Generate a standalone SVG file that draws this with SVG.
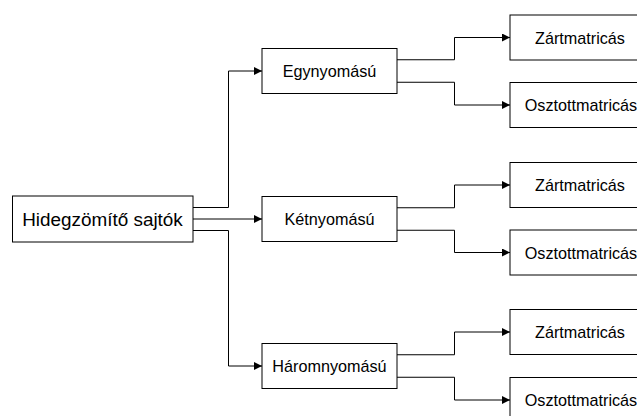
<svg xmlns="http://www.w3.org/2000/svg" width="637" height="416" viewBox="0 0 637 416">
  <style>
    .box { fill: #ffffff; stroke: #000000; stroke-width: 1; }
    .lbl { font-family: "Liberation Sans", Arial, sans-serif; font-size: 16.2px; fill: #000000; text-anchor: middle; dominant-baseline: central; }
    .main { font-size: 18.9px; }
    .edge { fill: none; stroke: #000000; stroke-width: 1; marker-end: url(#arrow); }
  </style>
  <defs>
    <marker id="arrow" viewBox="0 0 10 10" refX="10" refY="5" markerWidth="8" markerHeight="8" markerUnits="userSpaceOnUse" orient="auto">
      <path d="M0,0 L10,5 L0,10 Z" fill="#000000"/>
    </marker>
  </defs>
  <rect width="637" height="416" fill="#ffffff"/>

  <g id="connectors">
    <!-- root to second level -->
    <path class="edge" d="M193,207.5 H228.5 V71 H262"/>
    <path class="edge" d="M193,219 H262"/>
    <path class="edge" d="M193,230.5 H228.5 V366 H262"/>
    <!-- Egynyomású branches -->
    <path class="edge" d="M397,59.75 H454.5 V37.5 H510"/>
    <path class="edge" d="M397,82.25 H454.5 V105 H510"/>
    <!-- Kétnyomású branches -->
    <path class="edge" d="M397,207.75 H454.5 V185 H510"/>
    <path class="edge" d="M397,230.25 H454.5 V252.5 H510"/>
    <!-- Háromnyomású branches -->
    <path class="edge" d="M397,354.75 H454.5 V332 H510"/>
    <path class="edge" d="M397,377.25 H454.5 V400 H510"/>
  </g>

  <g id="root">
    <rect class="box" x="12.5" y="196" width="180.5" height="46"/>
    <text class="lbl main" x="102.5" y="219">Hidegzömítő sajtók</text>
  </g>

  <g id="egynyomasu">
    <rect class="box" x="262" y="48.5" width="135" height="45"/>
    <text class="lbl" x="329.5" y="71">Egynyomású</text>
  </g>
  <g id="ketnyomasu">
    <rect class="box" x="262" y="196.5" width="135" height="45"/>
    <text class="lbl" x="329.5" y="219">Kétnyomású</text>
  </g>
  <g id="haromnyomasu">
    <rect class="box" x="262" y="343.5" width="135" height="45"/>
    <text class="lbl" x="329.5" y="366">Háromnyomású</text>
  </g>

  <g id="egy-zart">
    <rect class="box" x="510" y="15" width="140" height="45"/>
    <text class="lbl" x="580" y="37.5">Zártmatricás</text>
  </g>
  <g id="egy-osztott">
    <rect class="box" x="510" y="82.5" width="140" height="45"/>
    <text class="lbl" x="581" y="105">Osztottmatricás</text>
  </g>
  <g id="ket-zart">
    <rect class="box" x="510" y="162.5" width="140" height="45"/>
    <text class="lbl" x="580" y="185">Zártmatricás</text>
  </g>
  <g id="ket-osztott">
    <rect class="box" x="510" y="230" width="140" height="45"/>
    <text class="lbl" x="581" y="252.5">Osztottmatricás</text>
  </g>
  <g id="harom-zart">
    <rect class="box" x="510" y="309.5" width="140" height="45"/>
    <text class="lbl" x="580" y="332">Zártmatricás</text>
  </g>
  <g id="harom-osztott">
    <rect class="box" x="510" y="377.5" width="140" height="45"/>
    <text class="lbl" x="581" y="400">Osztottmatricás</text>
  </g>
</svg>
